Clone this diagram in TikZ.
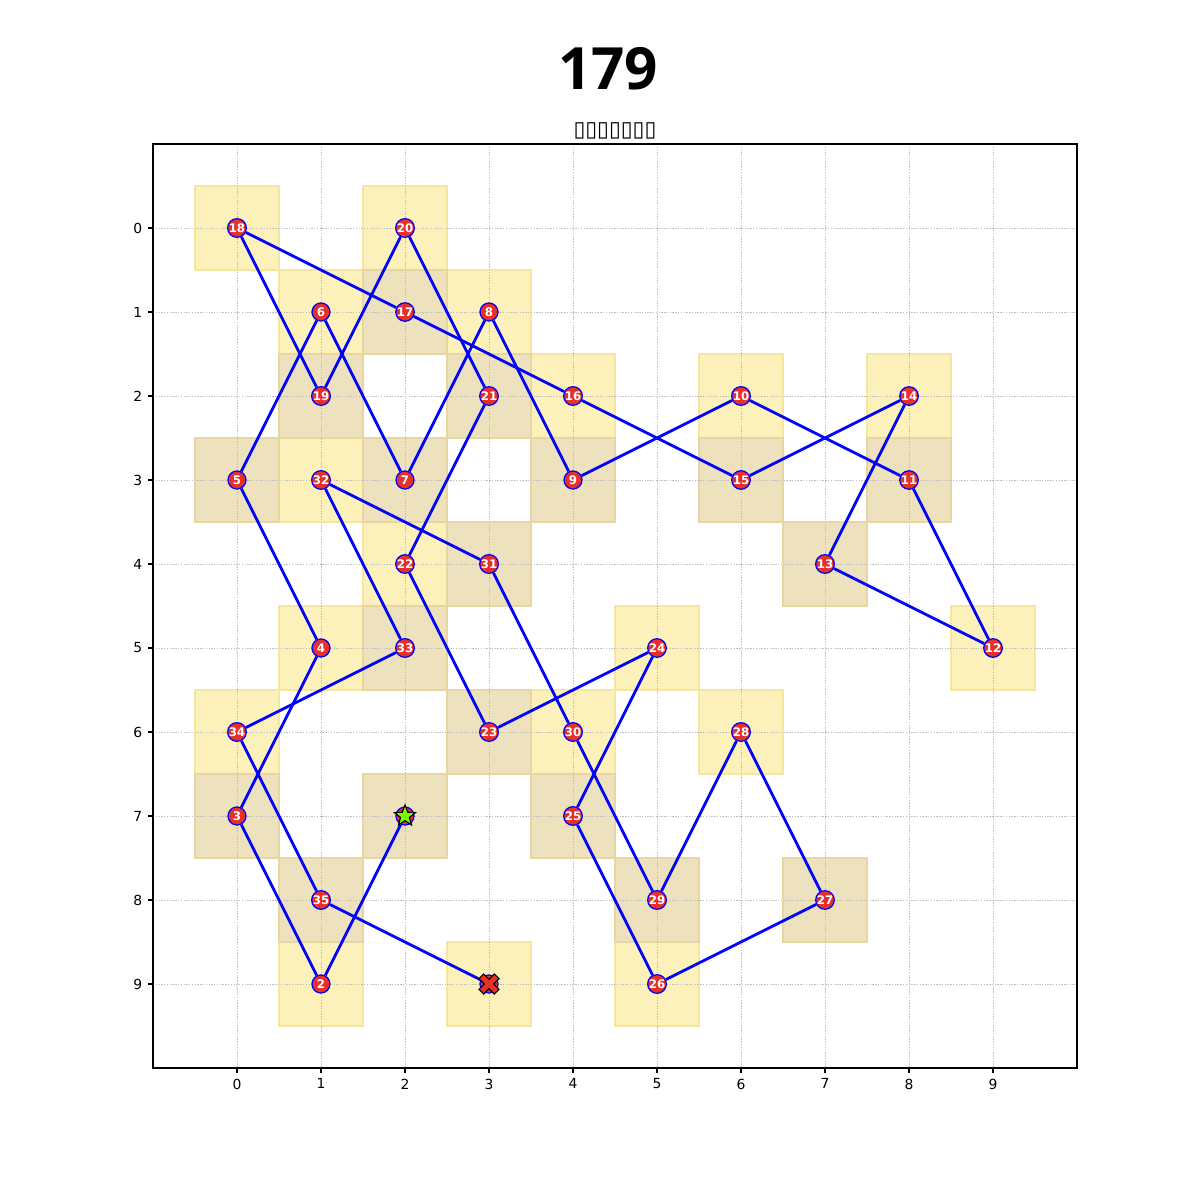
\documentclass[tikz,border=0pt]{standalone}
\usepackage{fontspec}
\setmainfont{DejaVu Sans}
\newfontfamily\titlefont{Open Sans}[BoldFont = {Open Sans Bold}]
\usetikzlibrary{shapes.geometric}
\definecolor{cellyellow}{HTML}{FCF1BA}
\definecolor{celltan}{HTML}{EEE1BD}
\definecolor{edgeyellow}{HTML}{F7E6A0}
\definecolor{edgetan}{HTML}{E8D6A2}
\definecolor{nodered}{HTML}{E8302A}
\definecolor{stargreen}{HTML}{7CFC00}
\tikzset{
	gridline/.style = {draw = gray!50, line width = 0.5pt, dash pattern = on 1pt off 1pt},
	route/.style = {draw = blue, line width = 2pt},
	visit/.style = {shape = circle, fill = nodered, draw = blue, line width = 0.9pt, minimum size = 13pt, inner sep = 0pt, text = white, font = \fontsize{8.5}{8.5}\selectfont\bfseries},
	startmark/.style = {shape = star, star points = 5, star point ratio = 2.4, fill = stargreen, draw = black, line width = 0.8pt, minimum size = 16pt, inner sep = 0pt},
	ticklabel/.style = {inner sep = 0pt, font = \fontsize{10}{10}\selectfont}
}
\begin{document}
\begin{tikzpicture}[x = 60.48pt, y = -60.48pt]
	\useasboundingbox (-2.8214, -2.7143) rectangle (11.4643, 11.5714);
	\foreach \i/\j in {0/0, 2/0, 1/1, 3/1, 4/2, 6/2, 8/2, 1/3, 2/4, 1/5, 5/5, 9/5, 0/6, 4/6, 6/6, 1/9, 3/9, 5/9}{
		\filldraw[fill = cellyellow, draw = edgeyellow, line width = 0.8pt] (\i - 0.5, \j - 0.5) rectangle (\i + 0.5, \j + 0.5);}
	\foreach \i/\j in {2/1, 1/2, 3/2, 0/3, 2/3, 4/3, 6/3, 8/3, 3/4, 7/4, 2/5, 3/6, 0/7, 2/7, 4/7, 1/8, 5/8, 7/8}{
		\filldraw[fill = celltan, draw = edgetan, line width = 0.8pt] (\i - 0.5, \j - 0.5) rectangle (\i + 0.5, \j + 0.5);}
	\foreach \i in {0, ..., 9}{
		\draw[gridline] (\i, -1) -- (\i, 10);
		\draw[gridline] (-1, \i) -- (10, \i);
		\draw[line width = 0.8pt] (\i, 10) -- ([yshift = -3.5pt]\i, 10);
		\draw[line width = 0.8pt] (-1, \i) -- ([xshift = -3.5pt]-1, \i);
		\node[ticklabel, anchor = north] (xt\i) at ([yshift = -7.5pt]\i, 10) {\i};
		\node[ticklabel, anchor = east] (yt\i) at ([xshift = -7.5pt]-1, \i) {\i};}
	\draw[line width = 0.8pt] (-1, -1) rectangle (10, 10);
	\node (title) at (4.417, -1.899) {\titlefont\fontsize{42}{42}\selectfont\bfseries 179};
	\node (subtitle) at (4.5, -1.161) {\fontsize{15.5}{15.5}\selectfont ▯▯▯▯▯▯▯};
	\foreach \n/\i/\j in {2/1/9, 3/0/7, 4/1/5, 5/0/3, 6/1/1, 7/2/3, 8/3/1, 9/4/3, 10/6/2, 11/8/3, 12/9/5, 13/7/4, 14/8/2, 15/6/3, 16/4/2, 17/2/1, 18/0/0, 19/1/2, 20/2/0, 21/3/2, 22/2/4, 23/3/6, 24/5/5, 25/4/7, 26/5/9, 27/7/8, 28/6/6, 29/5/8, 30/4/6, 31/3/4, 32/1/3, 33/2/5, 34/0/6, 35/1/8}{
		\node[visit] (p\n) at (\i, \j) {\n};}
	\node[visit] (p1) at (2, 7) {};
	\node[visit] (p36) at (3, 9) {};
	\foreach \n [evaluate = \n as \m using int(\n + 1)] in {1, ..., 35}{
		\draw[route] (p\n) -- (p\m);}
	\node[startmark] (start) at (p1) {};
	\begin{scope}[shift = {(p36.center)}, x = 1pt, y = 1pt, rotate = 45]
		\filldraw[fill = nodered, draw = black, line width = 0.8pt] (-2.4, 7.8) -- (2.4, 7.8) -- (2.4, 2.4) -- (7.8, 2.4) -- (7.8, -2.4) -- (2.4, -2.4) -- (2.4, -7.8) -- (-2.4, -7.8) -- (-2.4, -2.4) -- (-7.8, -2.4) -- (-7.8, 2.4) -- (-2.4, 2.4) -- cycle;
	\end{scope}
\end{tikzpicture}
\end{document}
